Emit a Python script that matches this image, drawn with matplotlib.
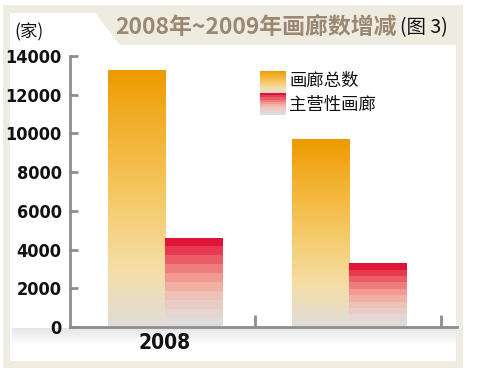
import numpy as np
import matplotlib
matplotlib.use("Agg")
import matplotlib.pyplot as plt
from matplotlib.colors import LinearSegmentedColormap, ListedColormap
from matplotlib.patches import Polygon, Rectangle

# ---- data ----
years = ["2008", "2009"]
year_labels = ["2008", ""]          # 2009 label is not visible in the reference
total_galleries = [13300, 9700]      # 画廊总数
main_galleries = [4600, 3300]        # 主营性画廊
series_names = ["画廊总数", "主营性画廊"]
yticks = [0, 2000, 4000, 6000, 8000, 10000, 12000, 14000]
title_main = "2008年~2009年画廊数增减"
title_tail = "(图 3)"
unit_label = "(家)"

W, H = 479, 382
fig = plt.figure(figsize=(W / 100, H / 100), dpi=100)
fig.patch.set_facecolor("white")

def fx(px):
    return px / W

def fy(py):
    return 1 - py / H

BEIGE = "#EEECE0"
fig.patches.append(Rectangle((fx(3), fy(368)), fx(463) - fx(3), fy(5) - fy(368),
                             transform=fig.transFigure, facecolor=BEIGE,
                             edgecolor="none", zorder=0))
pts = [(10, 13), (95, 13), (120, 45), (456, 45), (456, 361), (10, 361)]
fig.patches.append(Polygon([(fx(x), fy(y)) for x, y in pts], closed=True,
                           transform=fig.transFigure, facecolor="white",
                           edgecolor="none", zorder=0.5))

sh = fig.add_axes([fx(12), fy(345), fx(456) - fx(12), fy(328) - fy(345)], zorder=0.8)
sh.imshow(np.linspace(0, 1, 50).reshape(-1, 1), aspect="auto",
          cmap=LinearSegmentedColormap.from_list("sh", ["#E4E4E4", "#FFFFFF"]),
          extent=(0, 1, 1, 0))
sh.axis("off")

ax = fig.add_axes([fx(70), fy(327), fx(457) - fx(70), fy(56) - fy(327)], zorder=1)
ax.patch.set_alpha(0)

orange_cmap = LinearSegmentedColormap.from_list(
    "org", [(0.0, "#E0DCD8"), (0.22, "#F5DEA8"), (0.5, "#F6C966"),
            (0.8, "#F2AE2A"), (1.0, "#EE9A00")])
red_steps = ["#E0DCDA", "#E4D6D2", "#EACCC6", "#EEC0B6", "#F0B0A4",
             "#F29A92", "#EE7E7E", "#EA5C66", "#E63A50", "#E01438"]
red_cmap = ListedColormap(red_steps)

bw = 0.31
x = np.arange(len(years))
bars_t = ax.bar(x - bw / 2, total_galleries, width=bw, color="none", zorder=2)
bars_m = ax.bar(x + bw / 2, main_galleries, width=bw, color="none", zorder=2)

grad = np.linspace(0, 1, 256).reshape(-1, 1)
for bars, cmap in ((bars_t, orange_cmap), (bars_m, red_cmap)):
    for b in bars:
        x0, y0 = b.get_x(), b.get_y()
        im = ax.imshow(grad, cmap=cmap, aspect="auto", origin="lower",
                       extent=(x0, x0 + b.get_width(), y0, y0 + b.get_height()),
                       zorder=2, interpolation="nearest" if cmap is red_cmap else "bilinear")
        im.set_clip_path(b)

ax.set_xlim(-0.516, 1.587)
ax.set_ylim(0, 14000)
ax.set_aspect("auto")

for s in ("top", "right"):
    ax.spines[s].set_visible(False)
for s in ("left", "bottom"):
    ax.spines[s].set_color("#8E8E8E")
    ax.spines[s].set_linewidth(2.0)

ax.set_yticks(yticks)
ax.set_yticklabels([str(v) for v in yticks])
ax.tick_params(axis="y", direction="in", length=6, width=2, color="#8E8E8E", pad=6)
ax.set_xticks([0.49, 1.5])
ax.set_xticklabels(["", ""])
ax.tick_params(axis="x", which="major", direction="in", length=9, width=2, color="#8E8E8E")
ax.set_xticks(x, minor=True)
ax.set_xticklabels(year_labels, minor=True)
ax.tick_params(axis="x", which="minor", length=0, pad=4)

for lab in ax.get_yticklabels():
    lab.set_fontfamily(["DejaVu Sans"])
    lab.set_fontstretch("condensed")
    lab.set_fontweight("bold")
    lab.set_fontsize(13)
    lab.set_color("#111111")
for lab in ax.get_xticklabels(minor=True):
    lab.set_fontfamily(["DejaVu Sans"])
    lab.set_fontstretch("condensed")
    lab.set_fontweight("bold")
    lab.set_fontsize(15)
    lab.set_color("#111111")

cjk = ["Noto Sans CJK SC", "DejaVu Sans"]
sw_specs = [((260, 71, 286, 93), orange_cmap, "bilinear"),
            ((260, 93, 286, 115), red_cmap, "nearest")]
for (x0, y0, x1, y1), cmap, interp in sw_specs:
    sa = fig.add_axes([fx(x0), fy(y1), fx(x1) - fx(x0), fy(y0) - fy(y1)], zorder=3)
    sa.imshow(grad, cmap=cmap, aspect="auto", origin="lower", interpolation=interp)
    sa.axis("off")
fig.text(fx(289), fy(81), series_names[0], family=cjk, fontsize=12.5,
         va="center", ha="left", color="#111111", weight="light")
fig.text(fx(289), fy(105), series_names[1], family=cjk, fontsize=12.5,
         va="center", ha="left", color="#111111", weight="light")

fig.text(fx(115), fy(28), title_main, family=cjk, fontsize=16.5, weight="bold",
         color="#9A8872", va="center", ha="left")
fig.text(fx(400), fy(28), title_tail, family=cjk, fontsize=14, weight="light",
         color="#111111", va="center", ha="left")
fig.text(fx(14), fy(32), unit_label, family=cjk, fontsize=12.5, weight="light",
         color="#111111", va="center", ha="left")

fig.savefig("out.png", dpi=100)
